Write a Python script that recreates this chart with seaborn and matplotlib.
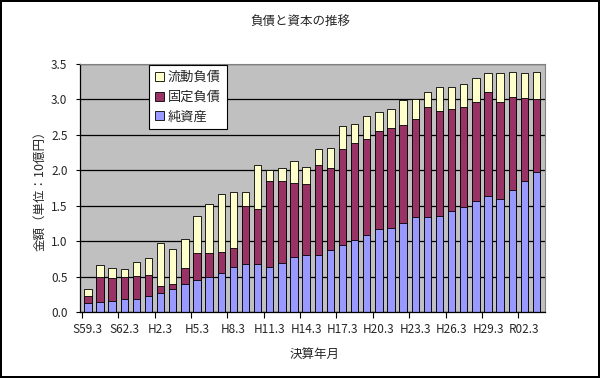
import numpy as np
import pandas as pd
import seaborn as sns
import matplotlib.pyplot as plt
from matplotlib.ticker import FixedLocator, FormatStrFormatter

# fiscal year-end labels (March), S59.3 .. R03.3
years = (["S%d.3" % n for n in range(59, 64)]
         + ["H%d.3" % n for n in range(1, 32)]
         + ["R%02d.3" % n for n in range(2, 4)])

# 純資産 (net assets), 10^9 yen
net_assets = [0.12, 0.14, 0.16, 0.18, 0.19, 0.22, 0.27, 0.32, 0.40, 0.45,
              0.49, 0.55, 0.63, 0.68, 0.68, 0.63, 0.69, 0.77, 0.81, 0.81,
              0.87, 0.94, 1.01, 1.09, 1.17, 1.19, 1.26, 1.34, 1.34, 1.36,
              1.42, 1.48, 1.56, 1.64, 1.59, 1.72, 1.85, 1.97]
# 固定負債 (fixed liabilities)
fixed_liab = [0.10, 0.35, 0.32, 0.31, 0.32, 0.30, 0.10, 0.07, 0.22, 0.38,
              0.34, 0.29, 0.27, 0.82, 0.77, 1.22, 1.16, 1.05, 1.00, 1.26,
              1.16, 1.36, 1.38, 1.35, 1.39, 1.41, 1.38, 1.38, 1.56, 1.47,
              1.45, 1.41, 1.40, 1.47, 1.37, 1.32, 1.17, 1.03]
# 流動負債 (current liabilities)
current_liab = [0.10, 0.18, 0.14, 0.12, 0.19, 0.24, 0.61, 0.50, 0.41, 0.52,
                0.70, 0.82, 0.80, 0.19, 0.63, 0.16, 0.18, 0.31, 0.24, 0.23,
                0.29, 0.33, 0.27, 0.32, 0.26, 0.27, 0.35, 0.29, 0.21, 0.34,
                0.31, 0.33, 0.34, 0.27, 0.42, 0.35, 0.36, 0.39]

colors = {"流動負債": "#FFFFCC", "固定負債": "#993366", "純資産": "#9999FF"}

df = pd.DataFrame({"year": years, "net": net_assets,
                   "fixed": fixed_liab, "current": current_liab})
df["lvl2"] = df["net"] + df["fixed"]
df["lvl3"] = df["lvl2"] + df["current"]

sns.set_style("white")
plt.rcParams["font.family"] = ["Noto Sans CJK JP", "DejaVu Sans"]

fig = plt.figure(figsize=(6, 3.78), dpi=100)
fig.patch.set_edgecolor("black")
fig.patch.set_linewidth(1.5)
ax = fig.add_axes([80 / 600, 1 - 312 / 378, 465 / 600, 248 / 378])
ax.set_facecolor("#C0C0C0")

bar_kw = dict(width=0.6, edgecolor="black", linewidth=0.6, saturation=1, ax=ax)
sns.barplot(data=df, x="year", y="lvl3", color=colors["流動負債"], label="流動負債", **bar_kw)
sns.barplot(data=df, x="year", y="lvl2", color=colors["固定負債"], label="固定負債", **bar_kw)
sns.barplot(data=df, x="year", y="net", color=colors["純資産"], label="純資産", **bar_kw)

ax.set_ylim(0, 3.5)
ax.set_xlim(-0.65, len(years) - 0.3)
ax.set_yticks(np.arange(0, 3.51, 0.5))
ax.yaxis.set_major_formatter(FormatStrFormatter("%.1f"))
ax.yaxis.grid(True, color="black", linewidth=0.9)
ax.set_axisbelow(True)

ax.set_xticks(range(0, len(years), 3))
ax.set_xticklabels(years[::3])
ax.xaxis.set_minor_locator(FixedLocator(np.arange(-0.5, len(years), 3)))
ax.tick_params(axis="x", which="major", length=0, labelsize=8.5, pad=8)
ax.tick_params(axis="x", which="minor", length=4, width=0.8, color="black", bottom=True)
ax.tick_params(axis="y", length=3, width=0.8, color="black", left=True, labelsize=8.5, pad=6)

for s in ["top", "right"]:
    ax.spines[s].set_color("#808080")
    ax.spines[s].set_linewidth(0.8)
for s in ["left", "bottom"]:
    ax.spines[s].set_color("black")
    ax.spines[s].set_linewidth(0.9)

ax.set_xlabel("決算年月", fontsize=9)
ax.xaxis.set_label_coords(0.505, -0.145)
ax.set_ylabel("金額（単位：10億円）", fontsize=9)
ax.yaxis.set_label_coords(-0.072, 0.5)

fig.text(0.5, 1 - 22 / 378, "負債と資本の推移", ha="center", va="center", fontsize=9)

leg = ax.legend(loc="upper left", bbox_to_anchor=(0.148, 0.995), borderaxespad=0,
                fancybox=False, edgecolor="black", framealpha=1, fontsize=9.5,
                handlelength=0.7, handleheight=0.7, handletextpad=0.3,
                labelspacing=0.5, borderpad=0.45)
leg.get_frame().set_linewidth(0.8)

fig.savefig("out.png", dpi=100, edgecolor=fig.get_edgecolor())
